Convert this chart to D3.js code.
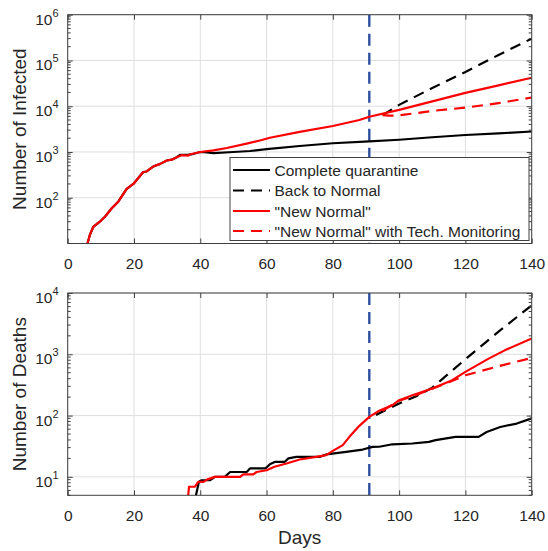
<!DOCTYPE html>
<html><head><meta charset="utf-8">
<script src="https://cdn.jsdelivr.net/npm/d3@7"></script>
<style>
body{margin:0;background:#fff}
text{font-family:Arial,"Liberation Sans",Helvetica,sans-serif;fill:#262626}
</style>
</head><body><svg id="c" width="548" height="551"></svg>
<script>
// ---------- data ----------
const xTicks = [0, 20, 40, 60, 80, 100, 120, 140];
const infYTicks = [1e2, 1e3, 1e4, 1e5, 1e6];
const deathYTicks = [1e1, 1e2, 1e3, 1e4];
const interventionDay = 91;
const seriesNames = ["Complete quarantine", "Back to Normal", "\"New Normal\"", "\"New Normal\" with Tech. Monitoring"];

// Number of infected
const infQuarantineDays = [5.8,6.7,7.7,9.7,11.3,13.3,15.3,17.8,19.8,21.3,22.8,23.8,25.8,27.9,29.9,31.4,32.9,34,36.4,37.5,40,42,44,50,55,60,70,80,91,100,110,120,130,140];
const infQuarantineVals = [9,15.5,23,30,39,59,83,157,200,270,365,375,480,550,650,680,770,870,880,890,1000,980,940,1000,1050,1150,1350,1550,1700,1850,2100,2350,2550,2800];
const infBackNormalDays = [95,100,110,120,130,140];
const infBackNormalVals = [6400,10700,25000,56000,132000,300000];
const infNewNormalDays = [5.8,6.7,7.7,9.7,11.3,13.3,15.3,17.8,19.8,21.3,22.8,23.8,25.8,27.9,29.9,31.4,32.9,34.4,36.4,36.8,40,44,48,54,58,61,70,80,88,91,100,110,120,130,140];
const infNewNormalVals = [9,15.5,23,30,39,59,83,157,200,270,365,375,480,550,650,680,770,850,830,880,1000,1080,1220,1520,1780,2050,2750,3700,5000,5900,8300,12800,19600,28500,42000];
const infTechDays = [95,97,100,110,120,130,140];
const infTechVals = [6400,6200,6300,7900,9300,11700,15500];

// Number of deaths
const deathQuarantineDays = [38.3,39.6,40.4,42.9,44.4,47.4,49,54,55,59.6,61,62.6,65.5,66.6,69,76,78,84,89,92,94,98,104,109,111,117,124,126.4,130.5,135.5,140];
const deathQuarantineVals = [4,8.3,8.8,8.8,10,10,12,12,13.7,13.7,16,17.6,17.6,20,21.2,21.2,23.2,25.5,27.9,30.8,31,34,35,37.2,39.7,45,45,54,65,74,90];
const deathBackNormalDays = [93,100,105,110,120,130,140];
const deathBackNormalVals = [102,158,205,285,830,2340,6300];
const deathNewNormalDays = [36.2,36.6,38.4,39.4,41,42,44.4,52,53,56,57,60,62.4,66,70,75,78,80,83,85,88,91,94,98,100,104,110,116,120,127,132,140];
const deathNewNormalVals = [4,6.9,6.9,8.3,8.3,9,10,10,11,11,12,12.8,14.6,16.5,19.2,21.2,22.6,26.5,33,45,68,95,120,148,178,215,276,378,517,850,1170,1810];
const deathTechDays = [95,100,105,110,115,120,130,140];
const deathTechVals = [120,175,215,275,350,454,640,870];

// ---------- drawing ----------
const svg = d3.select("#c");
const L = 67.7, R = 531.7;
const axisCol = "#404040", gridCol = "#dfdfdf";
const styles = [
  {color:"#000000", dash:null},
  {color:"#000000", dash:"11,7"},
  {color:"#ff0000", dash:null},
  {color:"#ff0000", dash:"11,7"}
];
const x = d3.scaleLinear().domain([0, 140]).range([L, R]);

function zip(ds, vs){ return ds.map((d,i)=>[d, vs[i]]); }

function panel(id, top, bottom, yDomain, yTicks, series, ylabel){
  const y = d3.scaleLog().domain(yDomain).range([bottom, top]);
  const g = svg.append("g");
  // clip
  svg.append("clipPath").attr("id", "clip"+id).append("rect")
    .attr("x", L).attr("y", top).attr("width", R-L).attr("height", bottom-top);
  // grid
  g.selectAll(".gx").data(xTicks).join("line")
    .attr("x1", d=>x(d)).attr("x2", d=>x(d)).attr("y1", top).attr("y2", bottom)
    .attr("stroke", gridCol).attr("stroke-width", 1);
  g.selectAll(".gy").data(yTicks).join("line")
    .attr("x1", L).attr("x2", R).attr("y1", d=>y(d)).attr("y2", d=>y(d))
    .attr("stroke", gridCol).attr("stroke-width", 1);
  // series
  const line = d3.line().x(d=>x(d[0])).y(d=>y(d[1]));
  const sg = g.append("g").attr("clip-path", `url(#clip${id})`);
  sg.append("line")
    .attr("x1", x(interventionDay)).attr("x2", x(interventionDay))
    .attr("y1", top).attr("y2", bottom)
    .attr("stroke", "#2d50a0").attr("stroke-width", 2.4).attr("stroke-dasharray", "12,7");
  series.forEach((s,i)=>{
    sg.append("path").datum(s).attr("d", line)
      .attr("fill","none").attr("stroke", styles[i].color)
      .attr("stroke-width", 2.2).attr("stroke-linejoin","round")
      .attr("stroke-dasharray", styles[i].dash);
  });
  // x axis ticks (inward, bottom and top)
  const xa = d3.axisBottom(x).tickValues(xTicks).tickSizeInner(-5).tickSizeOuter(0).tickPadding(14.5).tickFormat(d3.format("d"));
  const xg = g.append("g").attr("transform", `translate(0,${bottom})`).call(xa);
  xg.select(".domain").remove();
  xg.selectAll("line").attr("stroke", axisCol);
  xg.selectAll("text").attr("font-size", "15.5px").attr("fill", "#262626")
    .style("font-family", "Arial, 'Liberation Sans', sans-serif");
  const xt = d3.axisTop(x).tickValues(xTicks).tickSizeInner(-5).tickSizeOuter(0).tickFormat("");
  const xtg = g.append("g").attr("transform", `translate(0,${top})`).call(xt);
  xtg.select(".domain").remove();
  xtg.selectAll("line").attr("stroke", axisCol);
  // y axis major ticks left/right
  const ya = d3.axisLeft(y).tickValues(yTicks).tickSizeInner(-5).tickSizeOuter(0).tickFormat("");
  const yg = g.append("g").attr("transform", `translate(${L},0)`).call(ya);
  yg.select(".domain").remove(); yg.selectAll("line").attr("stroke", axisCol);
  const yr = d3.axisRight(y).tickValues(yTicks).tickSizeInner(-5).tickSizeOuter(0).tickFormat("");
  const yrg = g.append("g").attr("transform", `translate(${R},0)`).call(yr);
  yrg.select(".domain").remove(); yrg.selectAll("line").attr("stroke", axisCol);
  // minor ticks
  const minors = [];
  const lo = Math.floor(Math.log10(yDomain[0])), hi = Math.ceil(Math.log10(yDomain[1]));
  for (let k = lo; k < hi; k++) for (let m = 2; m <= 9; m++) {
    const v = m * Math.pow(10, k);
    if (v >= yDomain[0] && v <= yDomain[1]) minors.push(v);
  }
  g.selectAll(".ml").data(minors).join("line")
    .attr("x1", L).attr("x2", L+3).attr("y1", d=>y(d)).attr("y2", d=>y(d))
    .attr("stroke", axisCol).attr("stroke-width", 1);
  g.selectAll(".mr").data(minors).join("line")
    .attr("x1", R).attr("x2", R-3).attr("y1", d=>y(d)).attr("y2", d=>y(d))
    .attr("stroke", axisCol).attr("stroke-width", 1);
  // y tick labels 10^k
  yTicks.forEach(v=>{
    const t = g.append("text").attr("x", 58.5).attr("y", y(v)+10)
      .attr("text-anchor","end").attr("font-size","15.5px");
    t.append("tspan").text("10");
    t.append("tspan").attr("font-size","11px").attr("dy", -8).text(String(Math.round(Math.log10(v))));
  });
  // box
  g.append("rect").attr("x", L).attr("y", top).attr("width", R-L).attr("height", bottom-top)
    .attr("fill","none").attr("stroke", axisCol).attr("stroke-width", 1);
  // y label
  g.append("text").attr("transform", `translate(25.5,${(top+bottom)/2}) rotate(-90)`)
    .attr("text-anchor","middle").attr("font-size","19px").text(ylabel);
  return {g, y};
}

const p1 = panel("a", 14.7, 243.5, [10, 1e6], infYTicks, [
  zip(infQuarantineDays, infQuarantineVals),
  zip(infBackNormalDays, infBackNormalVals),
  zip(infNewNormalDays, infNewNormalVals),
  zip(infTechDays, infTechVals)
], "Number of Infected");

const p2 = panel("b", 293, 495.3, [5, 1e4], deathYTicks, [
  zip(deathQuarantineDays, deathQuarantineVals),
  zip(deathBackNormalDays, deathBackNormalVals),
  zip(deathNewNormalDays, deathNewNormalVals),
  zip(deathTechDays, deathTechVals)
], "Number of Deaths");

svg.append("text").attr("x", (L+R)/2).attr("y", 544).attr("text-anchor","middle")
  .attr("font-size","19px").text("Days");

// legend
const lg = svg.append("g");
lg.append("rect").attr("x", 230).attr("y", 157.5).attr("width", 299).attr("height", 83)
  .attr("fill","#fff").attr("stroke", axisCol).attr("stroke-width", 1);
const rowY = [170, 190.5, 211, 231];
seriesNames.forEach((name, i)=>{
  lg.append("line").attr("x1", 233).attr("x2", 270).attr("y1", rowY[i]).attr("y2", rowY[i])
    .attr("stroke", styles[i].color).attr("stroke-width", 2.2).attr("stroke-dasharray", styles[i].dash);
  lg.append("text").attr("x", 274.5).attr("y", rowY[i]+5.5).attr("font-size","15.5px").text(name);
});
</script>
</body></html>
